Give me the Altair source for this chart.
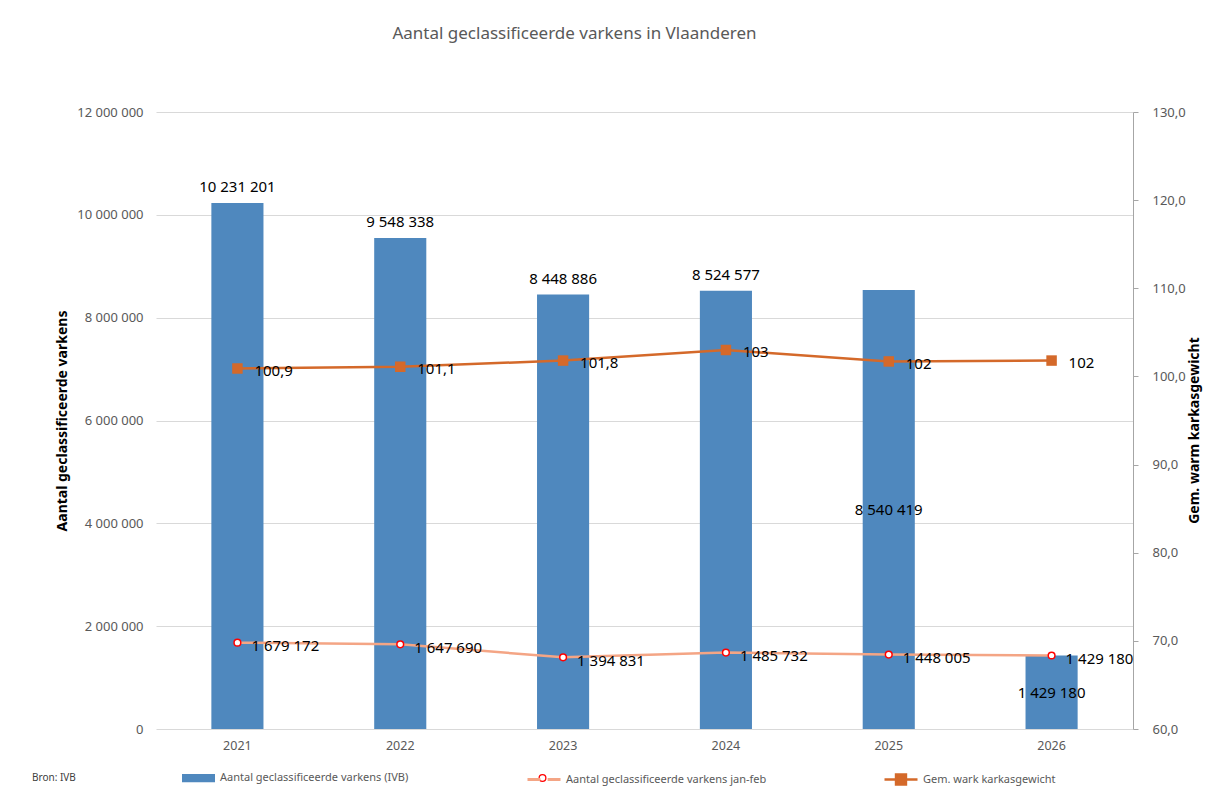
import altair as alt
import pandas as pd

# ---- data ----
years = ["2021", "2022", "2023", "2024", "2025", "2026"]
counts = [10231201, 9548338, 8448886, 8524577, 8540419, 1429180]
janfeb = [1679172, 1647690, 1394831, 1485732, 1448005, 1429180]
weights = [100.9, 101.1, 101.8, 103.0, 101.7, 101.8]
weight_labels = ["100,9", "101,1", "101,8", "103", "102", "102"]
left_ticks = [0, 2000000, 4000000, 6000000, 8000000, 10000000, 12000000]
right_ticks = [60, 70, 80, 90, 100, 110, 120, 130]
years_label_above = ["2021", "2022", "2023", "2024"]
years_label_inside = ["2025", "2026"]

TITLE = "Aantal geclassificeerde varkens in Vlaanderen"
SOURCE = "Bron: IVB"
LBL_BAR = "Aantal geclassificeerde varkens (IVB)"
LBL_JF = "Aantal geclassificeerde varkens jan-feb"
LBL_W = "Gem. wark karkasgewicht"
Y_LEFT_TITLE = "Aantal geclassificeerde varkens"
Y_RIGHT_TITLE = "Gem. warm karkasgewicht"

df = pd.DataFrame({
    "year": years,
    "count": counts,
    "janfeb": janfeb,
    "weight": weights,
    "wlabel": weight_labels,
})

BLUE = "#4F88BE"
SALMON = "#F4A585"
RED = "#FF0000"
ORANGE = "#D4692A"
GRAY_TXT = "#595959"
FONT = "Noto Sans"

W, H = 977, 617
LEG_Y = 649.5          # top of the legend rows (symbol centre = LEG_Y + 16.5)
LEG_JF_X = 370
PT_SIZE = 45
SPACE_FMT = "replace(format({v}, ','), regexp(',', 'g'), ' ')"


def series(name):
    return "'" + name + "'"


x_enc = alt.X("year:N", scale=alt.Scale(paddingInner=0.68, paddingOuter=0.34),
              axis=alt.Axis(domain=False, ticks=False, labelAngle=0, labelPadding=10,
                            labelFontSize=12.5, labelColor=GRAY_TXT, title=None))

y_left_scale = alt.Scale(domain=[0, 12000000], nice=False, zero=True)
left_axis = alt.Axis(values=left_ticks, labelExpr=SPACE_FMT.format(v="datum.value"),
                     grid=True, gridColor="#D9D9D9", gridWidth=1, domain=False, ticks=False,
                     labelPadding=13, labelFontSize=13, labelColor=GRAY_TXT,
                     title=Y_LEFT_TITLE, titleFontSize=14, titleFontWeight="bold",
                     titleColor="black", titleX=-94, titleY=H / 2, titleAngle=270,
                     titleAlign="center", titleBaseline="middle")

base = alt.Chart(df)

bars = base.transform_calculate(s_bar=series(LBL_BAR)).mark_bar().encode(
    x=x_enc,
    y=alt.Y("count:Q", scale=y_left_scale, axis=left_axis),
    fill=alt.Fill("s_bar:N",
                  scale=alt.Scale(domain=[LBL_BAR], range=[BLUE]),
                  legend=alt.Legend(orient="none", legendX=26, legendY=LEG_Y, title=None,
                                    padding=0, symbolType="M-1,-0.25H1V0.25H-1Z",
                                    symbolSize=1089, symbolStrokeWidth=0, labelOffset=5,
                                    labelFontSize=11, labelColor=GRAY_TXT, labelFont=FONT,
                                    labelLimit=400,
                                    symbolFillColor=BLUE, symbolStrokeColor="transparent")),
)

bar_lbl_top = base.transform_filter(
    alt.FieldOneOfPredicate(field="year", oneOf=years_label_above)
).transform_calculate(
    lbl=SPACE_FMT.format(v="datum.count")
).mark_text(dy=-16, fontSize=15, color="black", baseline="middle").encode(
    x="year:N", y=alt.Y("count:Q", scale=y_left_scale), text="lbl:N"
)

bar_lbl_mid = base.transform_filter(
    alt.FieldOneOfPredicate(field="year", oneOf=years_label_inside)
).transform_calculate(
    lbl=SPACE_FMT.format(v="datum.count"), half="datum.count / 2"
).mark_text(dy=1, fontSize=15, color="black", baseline="middle").encode(
    x="year:N", y=alt.Y("half:Q", scale=y_left_scale), text="lbl:N"
)

jf_line = base.transform_calculate(s_jf=series(LBL_JF)).mark_line(strokeWidth=2.5).encode(
    x="year:N",
    y=alt.Y("janfeb:Q", scale=y_left_scale),
    stroke=alt.Stroke("s_jf:N",
                      scale=alt.Scale(domain=[LBL_JF], range=[SALMON]),
                      legend=alt.Legend(orient="none", legendX=LEG_JF_X, legendY=LEG_Y,
                                        title=None, padding=0,
                                        symbolType="M-1,0H-0.22M0.22,0H1",
                                        symbolSize=1089, symbolStrokeWidth=3, labelOffset=4,
                                        labelFontSize=11, labelColor=GRAY_TXT, labelFont=FONT,
                                        labelLimit=400,
                                        symbolFillColor="transparent",
                                        symbolStrokeColor=SALMON)),
)

jf_points = base.mark_point(
    filled=True, fill="white", stroke=RED, strokeWidth=1.5, size=PT_SIZE, shape="circle",
    opacity=1
).encode(
    x="year:N",
    y=alt.Y("janfeb:Q", scale=y_left_scale),
)

jf_lbl = base.transform_calculate(
    lbl=SPACE_FMT.format(v="datum.janfeb")
).mark_text(align="left", baseline="middle", dx=14, dy=3.5, fontSize=15, color="black").encode(
    x="year:N", y=alt.Y("janfeb:Q", scale=y_left_scale), text="lbl:N"
)

left = alt.layer(bars, bar_lbl_top, bar_lbl_mid, jf_line, jf_points, jf_lbl)

y_right_scale = alt.Scale(domain=[60, 130], nice=False, zero=False)
right_axis = alt.Axis(orient="right", values=right_ticks,
                      labelExpr="replace(format(datum.value, '.1f'), '.', ',')",
                      grid=False, domain=True, domainColor="#A6A6A6", domainWidth=1,
                      ticks=True, tickColor="#A6A6A6", tickSize=5, labelPadding=14,
                      labelFontSize=13, labelColor=GRAY_TXT,
                      title=Y_RIGHT_TITLE, titleFontSize=14, titleFontWeight="bold",
                      titleColor="black", titleX=61, titleY=318, titleAngle=270,
                      titleAlign="center", titleBaseline="middle")

w_legend = alt.Legend(orient="none", legendX=727, legendY=LEG_Y, title=None, padding=0,
                      symbolType="M-1,0H1M-0.3,-0.3H0.3V0.3H-0.3Z", symbolSize=1089,
                      labelOffset=4, labelFontSize=11, labelColor=GRAY_TXT, labelFont=FONT,
                      labelLimit=400,
                      symbolFillColor=ORANGE, symbolStrokeColor=ORANGE,
                      symbolStrokeWidth=2.5, symbolOpacity=1)

w_color = alt.Color("s_w:N", scale=alt.Scale(domain=[LBL_W], range=[ORANGE]), legend=w_legend)

w_line = base.transform_calculate(s_w=series(LBL_W)).mark_line(strokeWidth=2.5).encode(
    x="year:N",
    y=alt.Y("weight:Q", scale=y_right_scale, axis=right_axis),
    color=w_color,
)

w_points = base.transform_calculate(s_w=series(LBL_W)).mark_square(size=110, opacity=1).encode(
    x="year:N",
    y=alt.Y("weight:Q", scale=y_right_scale),
    color=w_color,
)

w_lbl = base.mark_text(align="left", baseline="middle", dx=17, dy=2.5, fontSize=15,
                       color="black").encode(
    x="year:N", y=alt.Y("weight:Q", scale=y_right_scale), text="wlabel:N"
)

right = alt.layer(w_line, w_points, w_lbl)

legend_row_y = LEG_Y + 16.5

# legend marker (white circle with red outline) of the jan-feb series
jf_legend_marker = alt.Chart(pd.DataFrame({"s": [LBL_JF]})).mark_point(
    filled=True, fill="white", stroke=RED, strokeWidth=1.3, size=PT_SIZE, shape="circle",
    opacity=1
).encode(x=alt.value(LEG_JF_X + 16.5), y=alt.value(legend_row_y))

source = alt.Chart(pd.DataFrame({"t": [SOURCE]})).mark_text(
    align="left", baseline="middle", fontSize=10, color="#404040"
).encode(x=alt.value(-124), y=alt.value(legend_row_y), text="t:N")

chart = alt.layer(left, right, jf_legend_marker, source).resolve_scale(
    y="independent"
).properties(
    width=W, height=H,
    autosize=alt.AutoSizeParams(type="none"),
    padding={"left": 148, "top": 104, "right": 70, "bottom": 61},
    title=alt.TitleParams(TITLE, fontSize=17, color=GRAY_TXT, fontWeight="normal",
                          anchor="middle", dx=-70, offset=63, font=FONT),
).configure(font=FONT).configure_view(stroke=None)

chart.save("out.html", embed_options={"renderer": "svg", "actions": False})
